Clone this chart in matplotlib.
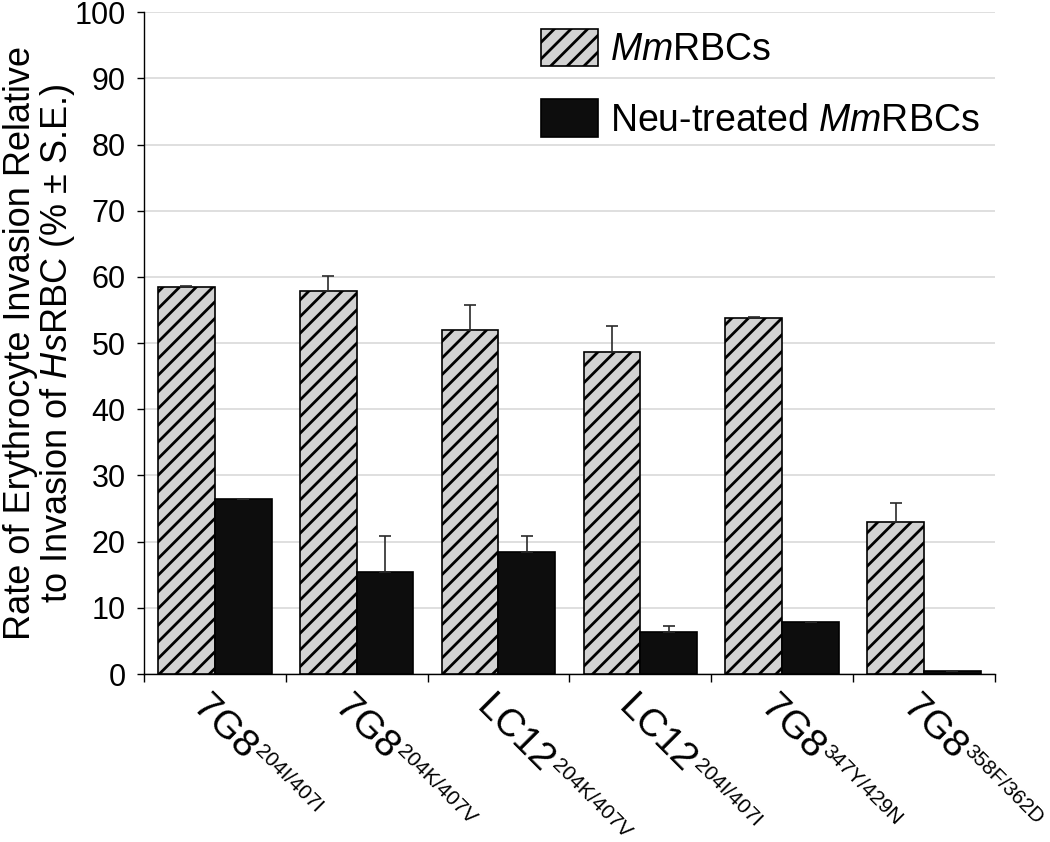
import numpy as np
import matplotlib
matplotlib.use("Agg")
import matplotlib.pyplot as plt
from matplotlib.transforms import offset_copy
from matplotlib.font_manager import FontProperties

plt.rcParams["font.family"] = ["Liberation Sans", "DejaVu Sans"]
plt.rcParams["mathtext.fontset"] = "custom"
plt.rcParams["mathtext.rm"] = "Liberation Sans"
plt.rcParams["mathtext.it"] = "Liberation Sans:italic"
plt.rcParams["hatch.linewidth"] = 2.0

# data
strains = ["7G8", "7G8", "LC12", "LC12", "7G8", "7G8"]
mutations = ["204I/407I", "204K/407V", "204K/407V", "204I/407I", "347Y/429N", "358F/362D"]
mm_rbc = [58.5, 57.9, 52.0, 48.6, 53.8, 22.9]
mm_rbc_se = [0.15, 2.3, 3.7, 4.0, 0.2, 2.9]
neu_rbc = [26.4, 15.4, 18.4, 6.3, 7.9, 0.45]
neu_rbc_se = [0.0, 5.5, 2.5, 1.0, 0.0, 0.0]

x = np.arange(len(strains))
width = 0.4

fig = plt.figure(figsize=(10.5, 8.42), dpi=100)
ax = fig.add_axes([0.137, 0.1995, 0.8106, 0.786])

ax.bar(x - width / 2, mm_rbc, width, color="#d2d2d2", edgecolor="black",
       hatch="//", linewidth=1.2, label=r"$\mathit{Mm}$RBCs", zorder=3)
ax.bar(x + width / 2, neu_rbc, width, color="#0d0d0d", edgecolor="black",
       linewidth=1.2, label=r"Neu-treated $\mathit{Mm}$RBCs", zorder=3)

ax.errorbar(x - width / 2, mm_rbc, yerr=[np.zeros(len(x)), mm_rbc_se], fmt="none",
            ecolor="#2a2a2a", elinewidth=1.2, capsize=4, capthick=1.2, zorder=4)
ax.errorbar(x + width / 2, neu_rbc, yerr=[np.zeros(len(x)), neu_rbc_se], fmt="none",
            ecolor="#2a2a2a", elinewidth=1.2, capsize=4, capthick=1.2, zorder=4)

ax.set_xlim(-0.5, len(x) - 0.5)
ax.set_ylim(0, 100)
ax.set_yticks(np.arange(0, 101, 10))
ax.yaxis.grid(True, color="#d9d9d9", linewidth=1.2, zorder=0)
ax.set_axisbelow(True)
ax.tick_params(axis="y", labelsize=22, length=5, width=1, direction="out", pad=8)

# ticks at category boundaries, labels drawn by hand below
ax.set_xticks(np.arange(len(x) + 1) - 0.5)
ax.set_xticklabels([])
ax.tick_params(axis="x", length=6, width=1, direction="out")

# rotated labels: big strain name followed by a smaller raised mutation tag
renderer = fig.canvas.get_renderer()
main_size, sup_size = 28, 15
c, s = np.cos(np.radians(-45)), np.sin(np.radians(-45))
for i, (strain, mut) in enumerate(zip(strains, mutations)):
    ax.text(i - 0.165, -5.3, strain, fontsize=main_size, rotation=-45,
            rotation_mode="anchor", ha="left", va="baseline", clip_on=False)
    w, _, _ = renderer.get_text_width_height_descent(
        strain, FontProperties(family="Liberation Sans", size=main_size), ismath=False)
    raise_px = 0.35 * main_size * 100 / 72
    w += 1
    dx = w * c - raise_px * s
    dy = w * s + raise_px * c
    tr = offset_copy(ax.transData, fig=fig, x=dx, y=dy, units="dots")
    ax.text(i - 0.165, -5.3, mut, fontsize=sup_size, rotation=-45,
            rotation_mode="anchor", ha="left", va="baseline", transform=tr,
            clip_on=False)

for side in ["top", "right"]:
    ax.spines[side].set_visible(False)
ax.spines["left"].set_linewidth(1)
ax.spines["bottom"].set_linewidth(1)

ax.set_ylabel("Rate of Erythrocyte Invasion Relative\nto Invasion of "
              r"$\mathit{Hs}$RBC (% ± S.E.)", fontsize=26, linespacing=1.0)
ax.yaxis.set_label_coords(-0.079, 0.5)

ax.legend(loc="upper left", bbox_to_anchor=(0.515, 0.9656),
          bbox_transform=fig.transFigure, frameon=False,
          fontsize=27, handlelength=1.52, handleheight=1.15, handletextpad=0.32,
          labelspacing=0.83, borderpad=0, borderaxespad=0)

fig.savefig("out.png", dpi=100)
